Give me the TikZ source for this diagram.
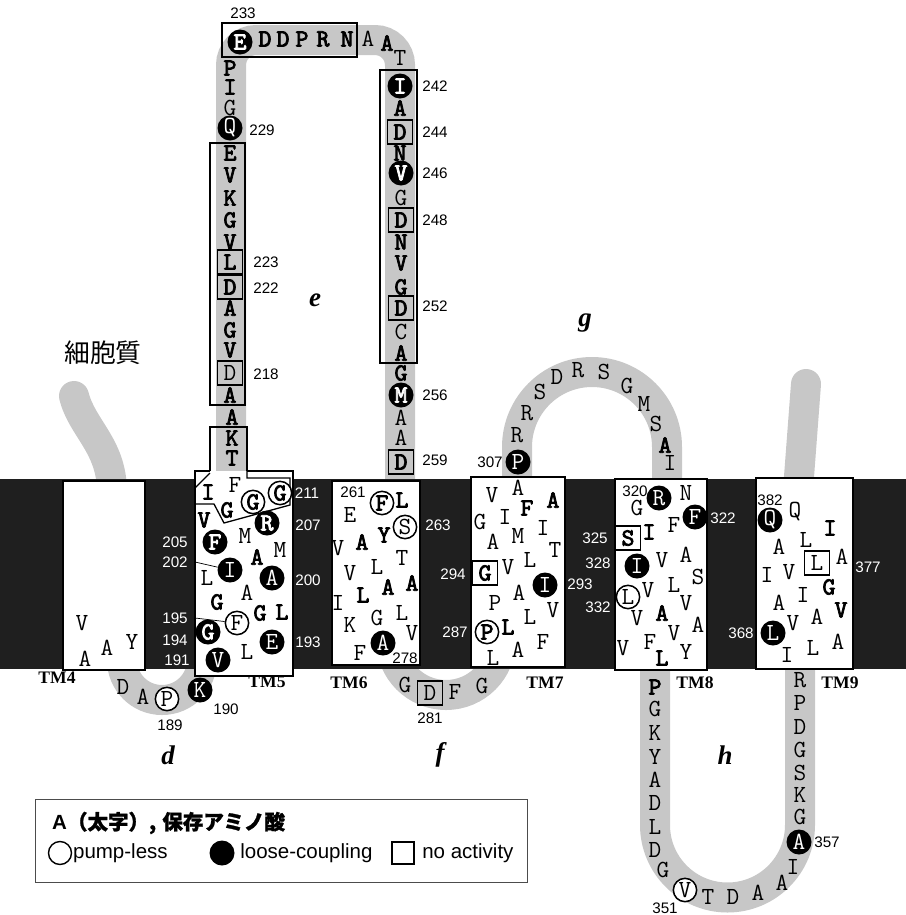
\documentclass[tikz,border=0pt]{standalone}
\usepackage{fontspec}
\setmainfont{Liberation Serif}
\setsansfont{Liberation Sans}
\newfontfamily\cjk{Noto Sans CJK JP}
\newfontfamily\cjkb{Noto Sans CJK JP}[FakeBold=1.2]
\newfontfamily\bmono{lmmono10-regular.otf}[FakeBold=3]
\usetikzlibrary{positioning}

\begin{document}
\begin{tikzpicture}[x=0.03cm,y=-0.03cm,
  rib/.style={line width=0.9cm,draw=black!22},
  res/.style={font=\fontsize{21}{21}\selectfont\ttfamily,inner sep=0pt},
  resb/.style={res,font=\fontsize{21}{21}\selectfont\bmono},
  fc/.style={res,circle,fill=black,text=white,minimum size=0.75cm},
  fcb/.style={fc,font=\fontsize{21}{21}\selectfont\bmono},
  oc/.style={res,circle,draw,line width=1.3pt,fill=white,minimum size=0.7cm},
  ocb/.style={oc,font=\fontsize{21}{21}\selectfont\bmono},
  bx/.style={res,draw,line width=1.4pt,minimum width=0.76cm,minimum height=0.72cm},
  bxb/.style={bx,font=\fontsize{21}{21}\selectfont\bmono},
  bn/.style={font=\fontsize{13}{13}\selectfont\sffamily,inner sep=0pt},
  wn/.style={bn,text=white},
  tml/.style={font=\fontsize{15}{15}\selectfont\bfseries,inner sep=0pt},
  lbl/.style={font=\fontsize{23}{23}\selectfont\bfseries\itshape,inner sep=0pt},
  lg/.style={font=\fontsize{17.5}{17.5}\selectfont\sffamily,inner sep=0pt},
  tmbox/.style={draw,fill=white,line width=1.5pt},
  seg/.style={line width=1.1pt}]
 \useasboundingbox (0,0) rectangle (906,915);

 % peptide chain
 \draw[rib,line cap=round] (74,396) .. controls (82,428) and (111,445) .. (112,490);
 \draw[rib,line cap=round] (806,384) -- (798,490);
 \draw[rib] (122,640) -- (122,660) arc[start angle=180,end angle=0,radius=40] -- (202,640);
 \draw[rib,rounded corners=0.75cm] (231,485) -- (231,40) -- (400,40) -- (400,485);
 \draw[rib] (391,620) -- (391,640) arc[start angle=180,end angle=0,radius=55] -- (501,620);
 \draw[rib] (517,490) -- (517,447) arc[start angle=180,end angle=360,radius=75] -- (667,490);
 \draw[rib] (655,640) -- (655,825) arc[start angle=180,end angle=0,radius=72.5] -- (800,640);

 % membrane
 \fill[black!88] (0,479) rectangle (906,669);

 % helices
 \draw[tmbox,line width=1.1pt] (63,481) rectangle (145,670);
 \fill[white] (195,471) rectangle (293,676);
 \draw[line width=1.5pt] (210,471) -- (195,471) -- (195,676) -- (293,676) -- (293,471) -- (247,471);
 \draw[tmbox] (332,481) rectangle (420,665);
 \draw[tmbox] (471,477) rectangle (565,667);
 \draw[tmbox] (615,479) rectangle (707,670);
 \draw[tmbox] (756,478) rectangle (853,669);

 % segment frames
 \draw[seg] (222,23) rectangle (357,57);
 \draw[seg] (210,143) rectangle (245,405);
 \draw[seg] (380,70) rectangle (417,363);
 \draw[seg] (210,471) -- (210,427) -- (247,427) -- (247,471);
 \draw[seg] (210,473) -- (195,488);
 \draw[seg] (247,471) -- (247,478) -- (290,478) -- (290,505) -- (224,523) -- (214,504) -- (195,504);

 % residues
 \foreach \x/\y/\t [count=\i] in {82/623/V, 85/659/A, 107/648/A, 132/642/Y,
   235/485/F, 245/536/M, 280/550/M, 207/578/L, 247/593/A, 247/652/L,
   123/687/D, 143/697/A,
   230/108/G, 368/39/A, 400/58/T, 401/198/G, 401/332/C, 401/418/A, 401/438/A,
   350/515/E, 338/548/V, 402/558/T, 350/573/V, 377/567/L, 338/603/I, 377/618/G,
   402/613/L, 350/625/K, 412/633/V, 360/653/F,
   405/685/G, 455/692/F, 482/686/G,
   492/495/V, 518/488/A, 480/522/G, 505/517/I, 543/528/I, 493/542/A, 518/536/M,
   555/550/T, 530/560/L, 508/567/V, 519/593/A, 495/603/P, 553/610/V, 530/617/L,
   543/642/F, 518/650/A, 493/658/L,
   517/435/R, 527/413/R, 540/392/S, 557/377/D, 578/370/R, 604/372/S, 627/386/G,
   644/404/M, 656/424/S, 670/463/I,
   686/493/N, 637/508/G, 674/525/F, 686/555/A, 662/560/V, 698/577/S, 674/585/L,
   648/590/V, 686/603/V, 637/618/V, 698/625/A, 674/633/V, 650/642/F, 623/648/V,
   686/652/Y,
   655/709/G, 655/733/K, 655/757/Y, 655/780/A, 655/803/D, 655/827/L, 655/850/D,
   663/870/G, 708/897/T, 733/897/D, 758/893/A, 782/883/A, 793/867/I, 800/817/G,
   800/795/K, 800/773/S, 800/750/G, 800/727/D, 800/703/P, 800/680/R,
   795/512/Q, 779/547/A, 806/540/L, 842/557/A, 767/575/I, 789/572/V, 803/595/I,
   779/603/A, 817/617/A, 793/623/V, 838/642/A, 813/648/L, 787/655/I}
   \node[res] (r\i) at (\x,\y) {\t};
 \foreach \x/\y/\t [count=\i] in {208/492/I, 227/510/G, 204/520/V, 257/557/A,
   217/602/G, 260/613/G, 282/612/L, 232/417/A, 232/438/K, 232/458/T,
   230/395/A, 230/350/V, 230/330/G, 230/308/A, 230/242/V, 230/220/G, 230/198/K,
   230/175/V, 230/153/E, 230/87/I, 230/68/P,
   265/39/D, 283/39/D, 302/39/P, 323/39/R, 347/39/N, 387/43/A,
   400/108/A, 400/153/N, 401/242/N, 401/263/V, 401/287/G, 401/353/A, 401/373/G,
   402/500/L, 362/542/A, 384/535/Y, 388/587/A, 412/583/A, 363/595/L,
   553/500/A, 527/508/F, 508/627/L, 665/445/A,
   649/532/I, 662/613/A, 662/658/L, 655/687/P,
   830/528/I, 829/587/G, 841/610/V}
   \node[resb] (b\i) at (\x,\y) {\t};

 % marked residues
 \node[fc] (i202) at (230,570) {I};
 \node[fc] (a200) at (272,578) {A};
 \node[fc] (e193) at (272,642) {E};
 \node[fc] (v191) at (218,660) {V};
 \node[fc] (k190) at (200,690) {K};
 \node[fc] (q229) at (230,128) {Q};
 \node[fc] (a278) at (383,643) {A};
 \node[fc] (i293) at (545,585) {I};
 \node[fc] (p307) at (518,462) {P};
 \node[fc] (r320) at (659,498) {R};
 \node[fc] (f322) at (695,517) {F};
 \node[fc] (i328) at (637,566) {I};
 \node[fc] (q382) at (770,520) {Q};
 \node[fc] (l368) at (773,633) {L};
 \node[fc] (a357) at (799,842) {A};
 \node[fcb] (r207) at (267,523) {R};
 \node[fcb] (f205) at (215,542) {F};
 \node[fcb] (g194) at (208,632) {G};
 \node[fcb] (e233) at (240,42) {E};
 \node[fcb] (i242) at (400,86) {I};
 \node[fcb] (v246) at (401,173) {V};
 \node[fcb] (m256) at (401,395) {M};
 \node[oc] (f195) at (237,623) {F};
 \node[oc] (p189) at (167,699) {P};
 \node[oc] (s263) at (405,527) {S};
 \node[oc] (l332) at (628,597) {L};
 \node[oc] (v351) at (685,890) {V};
 \node[ocb] (g210) at (253,502) {G};
 \node[ocb] (g211) at (280,493) {G};
 \node[ocb] (f261) at (382,503) {F};
 \node[ocb] (p287) at (487,632) {P};
 \node[bx] (d218) at (230,373) {D};
 \node[bx] (d281) at (430,693) {D};
 \node[bx] (l377) at (817,563) {L};
 \node[bxb] (l223) at (230,262) {L};
 \node[bxb] (d222) at (230,287) {D};
 \node[bxb] (d244) at (400,132) {D};
 \node[bxb] (d248) at (401,220) {D};
 \node[bxb] (d252) at (401,308) {D};
 \node[bxb] (d259) at (401,462) {D};
 \node[bxb] (g294) at (485,573) {G};
 \node[bxb] (s325) at (628,538) {S};
 \draw[line width=0.6pt] (195,562) -- (i202);
 \draw[line width=0.6pt] (195,618) -- (f195);

 % residue numbers
 \foreach \x/\y/\t [count=\i] in {175/542/205, 175/562/202, 175/618/195, 175/640/194,
   177/660/191, 307/493/211, 308/525/207, 308/580/200, 308/642/193, 438/525/263,
   453/574/294, 580/584/293, 455/632/287, 723/518/322, 595/538/325, 598/563/328,
   598/607/332, 868/567/377, 741/633/368}
   \node[wn] (w\i) at (\x,\y) {\t};
 \foreach \x/\y/\t [count=\i] in {243/13/233, 262/130/229, 266/262/223, 266/288/222,
   266/374/218, 435/86/242, 435/132/244, 435/173/246, 435/220/248, 435/306/252,
   435/395/256, 435/460/259, 170/725/189, 226/709/190, 353/492/261, 405/658/278,
   430/718/281, 490/462/307, 635/491/320, 770/500/382, 665/908/351, 827/842/357}
   \node[bn] (n\i) at (\x,\y) {\t};

 % helix and loop labels
 \node[tml] (tm4) at (57,678) {TM4};
 \node[tml] (tm5) at (267,682) {TM5};
 \node[tml] (tm6) at (349,683) {TM6};
 \node[tml] (tm7) at (545,683) {TM7};
 \node[tml] (tm8) at (695,683) {TM8};
 \node[tml] (tm9) at (840,683) {TM9};
 \node[lbl] (ld) at (168,755) {d};
 \node[lbl] (le) at (315,300) {e};
 \node[lbl] (lf) at (440,755) {f};
 \node[lbl] (lgg) at (585,323) {g};
 \node[lbl] (lh) at (725,755) {h};
 \node[font=\fontsize{22}{22}\selectfont\cjk] (cyto) at (103,353) {細胞質};

 % legend
 \draw[black!70,line width=0.6pt] (35,799) rectangle (527,882);
 \node[lg,anchor=west] (lgt) at (52,823) {\bfseries A\cjkb （太字）,\hspace{0.3em}保存アミノ酸};
 \node[circle,draw,line width=1.2pt,minimum size=0.69cm,inner sep=0pt] (lgo) at (60,853) {};
 \node[lg,right=0.02cm of lgo] (lgot) {pump-less};
 \node[circle,fill,minimum size=0.75cm,inner sep=0pt] (lgf) at (222,853) {};
 \node[lg,right=0.16cm of lgf] (lgft) {loose-coupling};
 \node[draw,line width=1.3pt,minimum size=0.66cm,inner sep=0pt] (lgs) at (403,853) {};
 \node[lg,right=0.22cm of lgs] (lgst) {no activity};
\end{tikzpicture}
\end{document}
